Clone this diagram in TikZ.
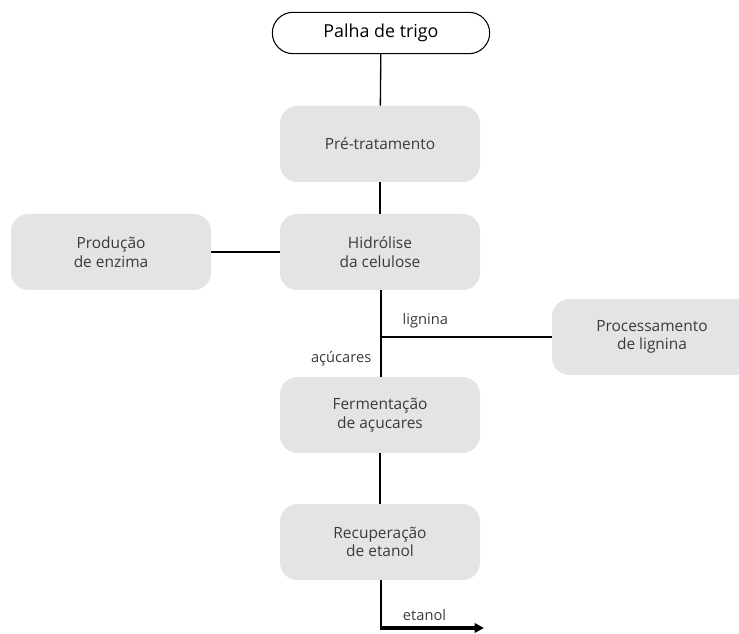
\documentclass[tikz,border=0pt]{standalone}
\usepackage{fontspec}
\setmainfont{Open Sans}
\usepackage{tikz}
\usetikzlibrary{arrows.meta}

\definecolor{boxgray}{HTML}{E3E4E5}
\definecolor{txtgray}{HTML}{3A3A3A}

\tikzset{
  stage/.style={fill=boxgray, rounded corners=13pt, minimum width=150pt,
    minimum height=57pt, align=center, text=txtgray, font=\fontsize{11.6}{14}\selectfont},
  source/.style={draw, line width=0.8pt, rounded corners=15.5pt, minimum width=163pt,
    minimum height=31pt, font=\fontsize{13.4}{15}\selectfont},
  flow/.style={line width=1pt},
  tag/.style={text=txtgray, font=\fontsize{11}{13}\selectfont}
}

\begin{document}
\begin{tikzpicture}[x=0.75pt, y=-0.75pt]
\useasboundingbox (0,0) rectangle (739,634);
% raw material
\node[source] (palha) at (381,33) {Palha de trigo};
% process stages
\node[stage] (pre) at (380,144) {Pré-tratamento};
\node[stage] (hidro) at (380,252) {Hidrólise\\da celulose};
\node[stage] (enzima) at (111,252) {Produção\\de enzima};
\node[stage] (lignproc) at (652,337) {Processamento\\de lignina};
\node[stage] (ferm) at (380,415) {Fermentação\\de açucares};
\node[stage] (recup) at (380,542) {Recuperação\\de etanol};
% branch points
\coordinate (split) at (381,337);
\coordinate (corner) at (381,628);
\coordinate (out) at (484,628);
% connectors
\draw[flow] (palha) -- (pre);
\draw[flow] (pre) -- (hidro);
\draw[flow] (enzima) -- (hidro);
\draw[flow] (hidro.south -| split) -- (ferm.north -| split);
\draw[flow] (split) -- node[tag, above, pos=0.26, yshift=3pt] {lignina} (lignproc);
\draw[flow] (ferm) -- (recup);
\draw[flow] (recup.south -| corner) -- (corner);
\draw[line width=2.7pt, -{Triangle[length=7pt, width=7pt]}] ([xshift=-1pt]corner) -- node[tag, above, pos=0.43, yshift=1pt] {etanol} (out);
% labels
\node[tag, anchor=east] (acucar) at (376,359) {açúcares};
\end{tikzpicture}
\end{document}
